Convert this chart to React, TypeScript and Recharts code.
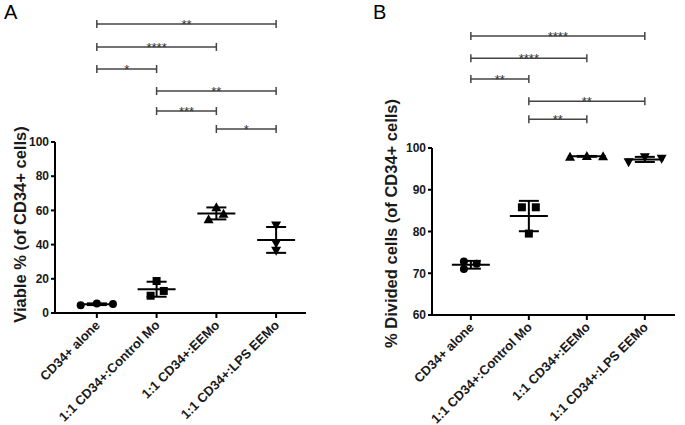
import React from "react";
import {
  ComposedChart,
  Scatter,
  XAxis,
  YAxis,
  ErrorBar,
  ReferenceLine,
} from "recharts";

const groups = [
  "CD34+ alone",
  "1:1 CD34+:Control Mo",
  "1:1 CD34+:EEMo",
  "1:1 CD34+:LPS EEMo",
];

// panel A – viable %
const viableAlone = [4.6, 5.6, 5.2];
const viableControl = [18.7, 10.1, 12.9];
const viableEEMo = [61.8, 54.8, 58.1];
const viableLPS = [51.1, 40.7, 36.4];
const viableJitter = [
  [-0.27, 0, 0.27],
  [0, -0.1, 0.12],
  [0, -0.13, 0.12],
  [0, 0, 0],
];

// panel B – % divided
const dividedAlone = [72.8, 71.0, 72.3];
const dividedControl = [85.8, 85.8, 79.5];
const dividedEEMo = [97.9, 98.1, 98.0];
const dividedLPS = [96.6, 97.8, 97.4];
const dividedJitter = [
  [-0.12, -0.12, 0.1],
  [-0.12, 0.12, 0],
  [-0.29, 0, 0.28],
  [-0.28, 0, 0.29],
];

// significance brackets
const bracketFrom = [0, 0, 0, 1, 1, 2];
const bracketTo = [3, 2, 1, 3, 2, 3];
const starsA = ["**", "****", "*", "**", "***", "*"];
const levelsA = [169, 155.6, 142.7, 129.8, 118.1, 107.6];
const starsB = ["****", "****", "**", "**", "**"];
const levelsB = [126.8, 121.5, 116.5, 111.2, 106.9];

const ticksA = [0, 20, 40, 60, 80, 100];
const ticksB = [60, 70, 80, 90, 100];

const FONT = "'Liberation Sans', Arial, sans-serif";

const toPoints = (vals: number[], idx: number, jitter: number[][]) =>
  vals.map((v, i) => ({ x: idx + jitter[idx][i], y: v }));

const meanSd = (sets: number[][]) =>
  sets.map((vals, idx) => {
    const m = vals.reduce((a, b) => a + b, 0) / vals.length;
    const sd = Math.sqrt(
      vals.reduce((a, b) => a + (b - m) * (b - m), 0) / (vals.length - 1)
    );
    return { x: idx, y: m, sd };
  });

const CircleDot = (p: any) => <circle cx={p.cx} cy={p.cy} r={4} fill="#000" />;
const SquareDot = (p: any) => (
  <rect x={p.cx - 4} y={p.cy - 4} width={8} height={8} fill="#000" />
);
const UpDot = (p: any) => (
  <polygon
    points={`${p.cx},${p.cy - 5} ${p.cx - 5},${p.cy + 4} ${p.cx + 5},${p.cy + 4}`}
    fill="#000"
  />
);
const DownDot = (p: any) => (
  <polygon
    points={`${p.cx},${p.cy + 5} ${p.cx - 5},${p.cy - 4} ${p.cx + 5},${p.cy - 4}`}
    fill="#000"
  />
);
const MeanLine = (p: any) => (
  <line x1={p.cx - 19} x2={p.cx + 19} y1={p.cy} y2={p.cy} stroke="#000" strokeWidth={2} />
);

const Bracket = (p: any) => {
  const { x1, x2, y1, stars } = p;
  return (
    <g>
      <line x1={x1} x2={x2} y1={y1} y2={y1} stroke="#444" strokeWidth={1.5} />
      <line x1={x1} x2={x1} y1={y1 - 4} y2={y1 + 4} stroke="#444" strokeWidth={1.5} />
      <line x1={x2} x2={x2} y1={y1 - 4} y2={y1 + 4} stroke="#444" strokeWidth={1.5} />
      <text
        x={(x1 + x2) / 2}
        y={y1 + 5}
        textAnchor="middle"
        fontSize={13}
        fontFamily={FONT}
        fill="#333"
      >
        {stars}
      </text>
    </g>
  );
};

const CatTick = (p: any) => {
  const tx = p.x + 4;
  const ty = p.y + 6;
  return (
    <text
      x={tx}
      y={ty}
      transform={`rotate(-45, ${tx}, ${ty})`}
      textAnchor="end"
      fontSize={13}
      fontWeight="bold"
      fontFamily={FONT}
      fill="#1a1a1a"
    >
      {groups[p.payload.value]}
    </text>
  );
};

interface PanelProps {
  sets: number[][];
  jitter: number[][];
  stars: string[];
  levels: number[];
  yTicks: number[];
  yTitle: string;
  axisWidth: number;
  titleX: number;
  titleShift: number;
  top: number;
  bottom: number;
  right: number;
  xDomain: [number, number];
}

function Panel({
  sets,
  jitter,
  stars,
  levels,
  yTicks,
  yTitle,
  axisWidth,
  titleX,
  titleShift,
  top,
  bottom,
  right,
  xDomain,
}: PanelProps) {
  const shapes = [CircleDot, SquareDot, UpDot, DownDot];
  const means = meanSd(sets);
  return (
    <ComposedChart
      width={340}
      height={425}
      margin={{ top, right, bottom: 0, left: 0 }}
    >
      <XAxis
        dataKey="x"
        type="number"
        domain={xDomain}
        ticks={[0, 1, 2, 3]}
        interval={0}
        height={bottom}
        tick={<CatTick />}
        tickSize={5}
        stroke="#000"
        strokeWidth={2}
        allowDataOverflow
      />
      <YAxis
        dataKey="y"
        type="number"
        domain={[yTicks[0], yTicks[yTicks.length - 1]]}
        ticks={yTicks}
        width={axisWidth}
        tickSize={4}
        tickMargin={2}
        stroke="#000"
        strokeWidth={2}
        tick={{ fontSize: 12, fontWeight: "bold", fontFamily: FONT, fill: "#1a1a1a" }}
        label={{
          content: (lp: any) => {
            const vb = lp.viewBox;
            const cy = vb.y + vb.height / 2 + titleShift;
            return (
              <text
                x={titleX}
                y={cy}
                transform={`rotate(-90, ${titleX}, ${cy})`}
                textAnchor="middle"
                dominantBaseline="central"
                fontSize={16.5}
                fontWeight="bold"
                fontFamily={FONT}
                fill="#1a1a1a"
              >
                {yTitle}
              </text>
            );
          },
        }}
      />
      {sets.map((vals, idx) => (
        <Scatter
          key={`pts-${idx}`}
          data={toPoints(vals, idx, jitter)}
          shape={shapes[idx]}
          isAnimationActive={false}
        />
      ))}
      <Scatter data={means} shape={MeanLine} isAnimationActive={false}>
        <ErrorBar
          dataKey="sd"
          direction="y"
          width={10}
          stroke="#000"
          strokeWidth={2}
          isAnimationActive={false}
        />
      </Scatter>
      {stars.map((s, i) => (
        <ReferenceLine
          key={`br-${i}`}
          segment={[
            { x: bracketFrom[i], y: levels[i] },
            { x: bracketTo[i], y: levels[i] },
          ]}
          ifOverflow="visible"
          shape={(p: any) => <Bracket {...p} stars={s} />}
        />
      ))}
    </ComposedChart>
  );
}

export default function App() {
  return (
    <div
      style={{
        position: "absolute",
        left: 0,
        top: 0,
        width: 685,
        height: 425,
        background: "#fff",
        fontFamily: FONT,
      }}
    >
      <div style={{ position: "absolute", left: 0, top: 0 }}>
        <Panel
          sets={[viableAlone, viableControl, viableEEMo, viableLPS]}
          jitter={viableJitter}
          stars={starsA}
          levels={levelsA}
          yTicks={ticksA}
          yTitle="Viable % (of CD34+ cells)"
          axisWidth={55}
          titleX={20}
          titleShift={-3}
          top={142}
          bottom={112}
          right={34}
          xDomain={[-0.7, 3.5]}
        />
      </div>
      <div style={{ position: "absolute", left: 345, top: 0 }}>
        <Panel
          sets={[dividedAlone, dividedControl, dividedEEMo, dividedLPS]}
          jitter={dividedJitter}
          stars={starsB}
          levels={levelsB}
          yTicks={ticksB}
          yTitle="% Divided cells (of CD34+ cells)"
          axisWidth={87}
          titleX={46}
          titleShift={-8}
          top={148}
          bottom={110}
          right={10}
          xDomain={[-0.67, 3.52]}
        />
      </div>
      <div style={{ position: "absolute", left: 4, top: 2, fontSize: 20, lineHeight: "20px" }}>
        A
      </div>
      <div style={{ position: "absolute", left: 373, top: 2, fontSize: 20, lineHeight: "20px" }}>
        B
      </div>
    </div>
  );
}
